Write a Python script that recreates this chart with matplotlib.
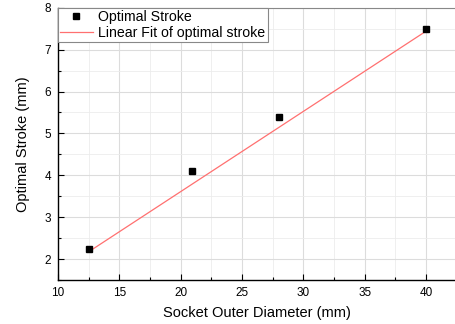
import matplotlib.pyplot as plt
from matplotlib.ticker import MultipleLocator

plt.rcParams['font.family'] = ['Liberation Sans', 'DejaVu Sans']

# measured points
diameter = [12.5, 20.9, 28.0, 40.0]
stroke = [2.25, 4.1, 5.4, 7.5]

# linear fit as drawn (end points)
fit_x = [12.6, 40.0]
fit_y = [2.19, 7.44]

fig = plt.figure(figsize=(4.56, 3.24), dpi=100)
ax = fig.add_axes([0.127, 0.136, 0.873, 0.84])

ax.plot(fit_x, fit_y, color='#ff7070', lw=0.9, label='Linear Fit of optimal stroke', zorder=2)
ax.plot(diameter, stroke, 's', color='black', ms=4.5, ls='none', label='Optimal Stroke', zorder=3)

ax.set_xlim(10, 42.45)
ax.set_ylim(1.5, 8)
ax.xaxis.set_major_locator(MultipleLocator(5))
ax.xaxis.set_minor_locator(MultipleLocator(2.5))
ax.yaxis.set_major_locator(MultipleLocator(1))
ax.yaxis.set_minor_locator(MultipleLocator(0.5))

ax.grid(True, which='major', color='#dcdcdc', lw=0.8)
ax.grid(True, which='minor', color='#ececec', lw=0.6)
ax.set_axisbelow(True)

ax.tick_params(which='major', direction='in', length=4, width=0.8, labelsize=8.5, pad=5)
ax.tick_params(which='minor', direction='in', length=2, width=0.8)
ax.spines['right'].set_visible(False)
ax.spines['top'].set_color('#888888')
for s in ['left', 'bottom']:
    ax.spines[s].set_linewidth(1.0)

ax.set_xlabel('Socket Outer Diameter (mm)', fontsize=10.5, labelpad=5)
ax.set_ylabel('Optimal Stroke (mm)', fontsize=10.5, labelpad=10)

handles, labels = ax.get_legend_handles_labels()
leg = ax.legend(handles[::-1], labels[::-1], loc='upper left', fontsize=10.2,
                borderaxespad=0, fancybox=False, framealpha=1, edgecolor='#888888',
                handlelength=2.3, handletextpad=0.4, borderpad=0.15, labelspacing=0.15,
                numpoints=1)
leg.get_frame().set_linewidth(0.8)

plt.savefig('out.png', dpi=100)
